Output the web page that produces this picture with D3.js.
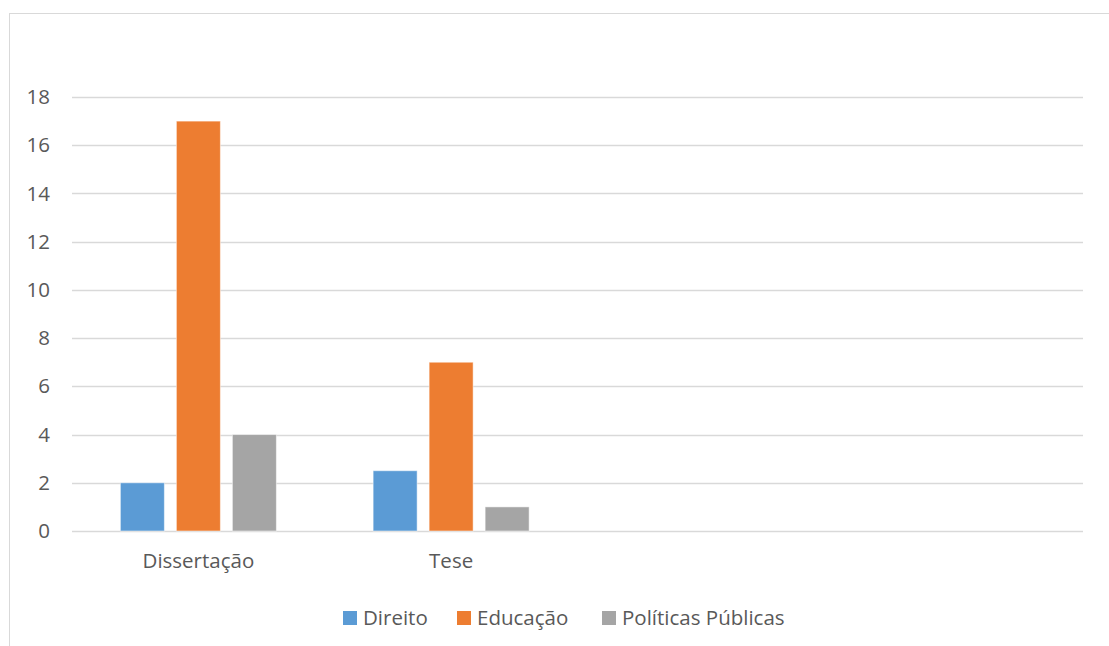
<!DOCTYPE html>
<html><head><meta charset="utf-8">
<script src="https://cdn.jsdelivr.net/npm/d3@7"></script>
<style>
body{margin:0;background:#fff;}
text{font-family:"Open Sans","Noto Sans",sans-serif;fill:#595959;}
</style></head>
<body><svg id="c" width="1109" height="646"></svg>
<script>
const categories = ["Dissertação", "Tese", "", " "];
const seriesNames = ["Direito", "Educação", "Políticas Públicas"];
const direito = [2, 2.5, null, null];
const educacao = [17, 7, null, null];
const politicas = [4, 1, null, null];
const yTicks = [0, 2, 4, 6, 8, 10, 12, 14, 16, 18];
const colors = ["#5B9BD5", "#ED7D31", "#A5A5A5"];

(function(){
const FS = "20.5px";
const svg = d3.select("#c");
svg.append("rect").attr("x", 9.5).attr("y", 13.5).attr("width", 1120).attr("height", 660)
  .attr("fill", "none").attr("stroke", "#d9d9d9").attr("stroke-width", 1);

const pL = 72, pR = 1083, pT = 97, pB = 531;
const x = d3.scaleBand().domain(categories).range([pL, pR]).paddingInner(0).paddingOuter(0);
const y = d3.scaleLinear().domain([0, 18]).range([pB, pT]);

// gridlines
svg.append("g").selectAll("line").data(yTicks).join("line")
  .attr("x1", pL).attr("x2", pR)
  .attr("y1", d => Math.round(y(d)) + 0.5).attr("y2", d => Math.round(y(d)) + 0.5)
  .attr("stroke", "#d9d9d9").attr("stroke-width", 1.3);

// y axis labels
const yAxis = d3.axisLeft(y).tickValues(yTicks).tickSize(0).tickPadding(0);
const ya = svg.append("g").attr("transform", `translate(50,0)`).call(yAxis);
ya.select(".domain").remove();
ya.selectAll("text").style("font-size", FS).attr("fill", "#595959").attr("font-family", null);

// category labels
const xAxis = d3.axisBottom(x).tickSize(0).tickPadding(0);
const xa = svg.append("g").attr("transform", `translate(0,${pB + 22})`).call(xAxis);
xa.select(".domain").remove();
xa.selectAll("text").style("font-size", FS).attr("fill", "#595959").attr("font-family", null);

// bars
const series = [direito, educacao, politicas];
const barW = 44, gap = 12;
const groupW = 3 * barW + 2 * gap;
const inner = d3.scaleBand().domain(seriesNames).range([0, groupW]).paddingInner(gap / (barW + gap)).paddingOuter(0);
series.forEach((vals, si) => {
  svg.append("g").selectAll("rect").data(categories.map((c, i) => ({c, v: vals[i]})).filter(d => d.v != null))
    .join("rect")
    .attr("x", d => x(d.c) + (x.bandwidth() - groupW) / 2 + inner(seriesNames[si]))
    .attr("width", inner.bandwidth())
    .attr("y", d => y(d.v))
    .attr("height", d => y(0) - y(d.v))
    .attr("fill", colors[si])
    .attr("stroke", "#ffffff").attr("stroke-opacity", 0.5).attr("stroke-width", 1);
});

// legend
const legX = [343, 457, 602];
const lg = svg.append("g");
seriesNames.forEach((n, i) => {
  lg.append("rect").attr("x", legX[i]).attr("y", 611).attr("width", 14).attr("height", 14).attr("fill", colors[i]);
  lg.append("text").attr("x", legX[i] + 20).attr("y", 625).style("font-size", FS).text(n);
});
})();
</script></body></html>
